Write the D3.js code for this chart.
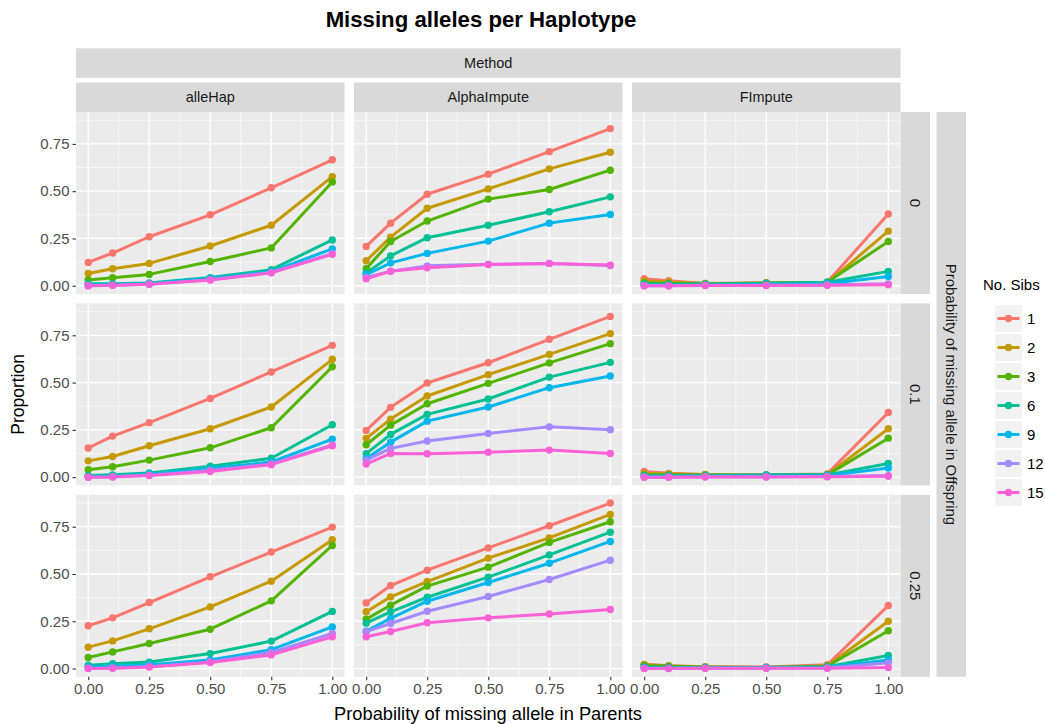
<!DOCTYPE html>
<html>
<head>
<meta charset="utf-8">
<script src="https://cdn.jsdelivr.net/npm/d3@7"></script>
<style>
  body { margin: 0; background: #fff; }
  text { font-family: "Liberation Sans", Arial, sans-serif; }
</style>
</head>
<body>
<svg id="chart" width="1045" height="724"></svg>
<script>
// x levels and series
const parentProb = [0, 0.1, 0.25, 0.5, 0.75, 1]
const sibs = ["1", "2", "3", "6", "9", "12", "15"]
const sibColors = ["#F8766D", "#C49A00", "#53B400", "#00C094", "#00B6EB", "#A58AFF", "#FB61D7"]
const methods = ["alleHap", "AlphaImpute", "FImpute"]
const offspringProb = ["0", "0.1", "0.25"]
const xTicks = [0, 0.25, 0.5, 0.75, 1]
const yTicks = [0, 0.25, 0.5, 0.75]

// one array per panel, one row per No. Sibs level
const alleHap_0 = [
    [0.123, 0.173, 0.259, 0.375, 0.518, 0.666],
    [0.065, 0.090, 0.118, 0.210, 0.320, 0.577],
    [0.030, 0.042, 0.060, 0.128, 0.200, 0.549],
    [0.010, 0.010, 0.015, 0.043, 0.085, 0.242],
    [0.005, 0.007, 0.012, 0.038, 0.075, 0.195],
    [0.000, 0.003, 0.008, 0.032, 0.070, 0.170],
    [0.000, 0.002, 0.008, 0.030, 0.068, 0.166]
]
const alphaImpute_0 = [
    [0.208, 0.331, 0.484, 0.590, 0.709, 0.831],
    [0.132, 0.257, 0.410, 0.512, 0.618, 0.706],
    [0.090, 0.234, 0.342, 0.458, 0.509, 0.611],
    [0.067, 0.158, 0.254, 0.320, 0.391, 0.470],
    [0.058, 0.121, 0.171, 0.236, 0.331, 0.377],
    [0.044, 0.077, 0.105, 0.113, 0.118, 0.107],
    [0.037, 0.076, 0.095, 0.112, 0.118, 0.109]
]
const fImpute_0 = [
    [0.037, 0.026, 0.012, 0.016, 0.019, 0.379],
    [0.025, 0.020, 0.012, 0.012, 0.015, 0.289],
    [0.015, 0.012, 0.010, 0.015, 0.018, 0.234],
    [0.010, 0.008, 0.008, 0.012, 0.018, 0.076],
    [0.003, 0.002, 0.004, 0.006, 0.010, 0.049],
    [0.000, 0.000, 0.002, 0.003, 0.004, 0.010],
    [0.000, 0.000, 0.001, 0.001, 0.002, 0.005]
]
const alleHap_01 = [
    [0.154, 0.217, 0.288, 0.416, 0.556, 0.697],
    [0.086, 0.109, 0.166, 0.256, 0.371, 0.623],
    [0.039, 0.055, 0.090, 0.155, 0.261, 0.584],
    [0.008, 0.012, 0.022, 0.058, 0.100, 0.277],
    [0.002, 0.005, 0.015, 0.045, 0.080, 0.201],
    [0.000, 0.002, 0.010, 0.035, 0.070, 0.170],
    [0.000, 0.001, 0.008, 0.030, 0.066, 0.166]
]
const alphaImpute_01 = [
    [0.247, 0.369, 0.498, 0.605, 0.729, 0.850],
    [0.205, 0.307, 0.429, 0.542, 0.649, 0.759],
    [0.171, 0.275, 0.388, 0.496, 0.604, 0.706],
    [0.124, 0.226, 0.332, 0.413, 0.529, 0.607],
    [0.099, 0.185, 0.296, 0.371, 0.473, 0.535],
    [0.090, 0.152, 0.191, 0.231, 0.266, 0.251],
    [0.069, 0.125, 0.124, 0.132, 0.143, 0.125]
]
const fImpute_01 = [
    [0.030, 0.020, 0.014, 0.012, 0.017, 0.342],
    [0.020, 0.017, 0.013, 0.010, 0.013, 0.256],
    [0.012, 0.012, 0.011, 0.010, 0.012, 0.206],
    [0.008, 0.007, 0.008, 0.012, 0.012, 0.072],
    [0.003, 0.003, 0.004, 0.006, 0.008, 0.048],
    [0.000, 0.000, 0.002, 0.002, 0.003, 0.008],
    [0.000, 0.000, 0.001, 0.001, 0.002, 0.005]
]
const alleHap_025 = [
    [0.226, 0.268, 0.349, 0.485, 0.616, 0.748],
    [0.113, 0.146, 0.210, 0.326, 0.462, 0.681],
    [0.058, 0.088, 0.132, 0.208, 0.358, 0.651],
    [0.018, 0.025, 0.034, 0.079, 0.145, 0.302],
    [0.009, 0.012, 0.020, 0.045, 0.100, 0.220],
    [0.002, 0.003, 0.010, 0.035, 0.085, 0.185],
    [0.000, 0.002, 0.008, 0.032, 0.072, 0.168]
]
const alphaImpute_025 = [
    [0.347, 0.439, 0.520, 0.638, 0.755, 0.875],
    [0.300, 0.379, 0.460, 0.584, 0.691, 0.815],
    [0.261, 0.335, 0.436, 0.536, 0.667, 0.776],
    [0.240, 0.300, 0.377, 0.483, 0.601, 0.721],
    [0.198, 0.265, 0.356, 0.455, 0.557, 0.672],
    [0.196, 0.238, 0.303, 0.381, 0.471, 0.573],
    [0.168, 0.196, 0.242, 0.268, 0.289, 0.312]
]
const fImpute_025 = [
    [0.022, 0.015, 0.010, 0.008, 0.020, 0.333],
    [0.020, 0.013, 0.008, 0.006, 0.015, 0.250],
    [0.015, 0.012, 0.007, 0.005, 0.012, 0.200],
    [0.008, 0.006, 0.005, 0.006, 0.010, 0.069],
    [0.004, 0.003, 0.003, 0.004, 0.006, 0.045],
    [0.001, 0.001, 0.002, 0.002, 0.003, 0.030],
    [0.000, 0.000, 0.001, 0.001, 0.001, 0.005]
]

// grid of panels: rows = offspring prob, cols = method
const panelData = [
    [alleHap_0, alphaImpute_0, fImpute_0],
    [alleHap_01, alphaImpute_01, fImpute_01],
    [alleHap_025, alphaImpute_025, fImpute_025]
]

// layout
const panelX0 = 76, panelW = 268.5, colStep = 278
const panelY0 = 112, panelH = 182, rowStep = 191.4
const stripH = 29.5
const font = '"Liberation Sans", Arial, sans-serif'
const lineW = 3, pointR = 3.7

const svg = d3.select("#chart")

const x = d3.scaleLinear().domain([-0.05, 1.05]).range([0, panelW])
const y = d3.scaleLinear().domain([-0.04375, 0.91875]).range([panelH, 0])
const color = d3.scaleOrdinal().domain(sibs).range(sibColors)

const line = d3.line()
    .x((d, i) => x(parentProb[i]))
    .y(d => y(d))

// title
svg.append("text")
    .attr("x", 481).attr("y", 27)
    .attr("text-anchor", "middle")
    .style("font-size", "22.2px").style("font-weight", "bold")
    .text("Missing alleles per Haplotype")

// Method strip
const gridRight = panelX0 + 2 * colStep + panelW
svg.append("rect")
    .attr("x", panelX0).attr("y", 48.3)
    .attr("width", gridRight - panelX0).attr("height", stripH)
    .attr("fill", "#D9D9D9")
svg.append("text")
    .attr("x", (panelX0 + gridRight) / 2).attr("y", 48.3 + stripH / 2)
    .attr("dy", "0.35em").attr("text-anchor", "middle")
    .style("font-size", "14.5px").attr("fill", "#1A1A1A")
    .text("Method")

// outer right strip
const gridBottom = panelY0 + 2 * rowStep + panelH
svg.append("rect")
    .attr("x", 936.5).attr("y", panelY0)
    .attr("width", stripH).attr("height", gridBottom - panelY0)
    .attr("fill", "#D9D9D9")
svg.append("text")
    .attr("transform", `translate(${936.5 + stripH / 2},${(panelY0 + gridBottom) / 2}) rotate(90)`)
    .attr("dy", "0.35em").attr("text-anchor", "middle")
    .style("font-size", "15px").attr("fill", "#1A1A1A")
    .text("Probability of missing allele in Offspring")

panelData.forEach((row, r) => {
    row.forEach((series, c) => {
        const px = panelX0 + c * colStep
        const py = panelY0 + r * rowStep
        const g = svg.append("g").attr("transform", `translate(${px},${py})`)

        g.append("rect").attr("width", panelW).attr("height", panelH).attr("fill", "#EBEBEB")

        // minor grid
        const xMinor = [0.125, 0.375, 0.625, 0.875]
        const yMinor = [0.125, 0.375, 0.625, 0.875]
        g.selectAll(".xminor").data(xMinor).join("line")
            .attr("x1", d => x(d)).attr("x2", d => x(d))
            .attr("y1", 0).attr("y2", panelH)
            .attr("stroke", "#fff").attr("stroke-width", 0.6)
        g.selectAll(".yminor").data(yMinor).join("line")
            .attr("y1", d => y(d)).attr("y2", d => y(d))
            .attr("x1", 0).attr("x2", panelW)
            .attr("stroke", "#fff").attr("stroke-width", 0.6)
        // major grid
        g.selectAll(".xmajor").data(xTicks).join("line")
            .attr("x1", d => x(d)).attr("x2", d => x(d))
            .attr("y1", 0).attr("y2", panelH)
            .attr("stroke", "#fff").attr("stroke-width", 1.3)
        g.selectAll(".ymajor").data(yTicks).join("line")
            .attr("y1", d => y(d)).attr("y2", d => y(d))
            .attr("x1", 0).attr("x2", panelW)
            .attr("stroke", "#fff").attr("stroke-width", 1.3)

        // lines and points
        series.forEach((vals, s) => {
            g.append("path")
                .datum(vals)
                .attr("d", line)
                .attr("fill", "none")
                .attr("stroke", sibColors[s])
                .attr("stroke-width", lineW)
                .attr("stroke-linejoin", "round")
        })
        series.forEach((vals, s) => {
            g.selectAll(null).data(vals).join("circle")
                .attr("cx", (d, i) => x(parentProb[i]))
                .attr("cy", d => y(d))
                .attr("r", pointR)
                .attr("fill", sibColors[s])
        })

        // y axis on the left column
        if (c === 0) {
            const ax = g.append("g").call(d3.axisLeft(y).tickValues(yTicks).tickFormat(d3.format(".2f")).tickSize(3.5).tickPadding(3))
            ax.select(".domain").remove()
            ax.selectAll("line").attr("stroke", "#333").attr("stroke-width", 1.1)
            ax.selectAll("text").attr("fill", "#4D4D4D").style("font-size", "15px").style("font-family", font)
        }
        // x axis on the bottom row
        if (r === 2) {
            const ax = g.append("g").attr("transform", `translate(0,${panelH})`)
                .call(d3.axisBottom(x).tickValues(xTicks).tickFormat(d3.format(".2f")).tickSize(3.5).tickPadding(3))
            ax.select(".domain").remove()
            ax.selectAll("line").attr("stroke", "#333").attr("stroke-width", 1.1)
            ax.selectAll("text").attr("fill", "#4D4D4D").style("font-size", "15px").style("font-family", font)
        }
        // column strip
        if (r === 0) {
            svg.append("rect")
                .attr("x", px).attr("y", panelY0 - stripH)
                .attr("width", panelW).attr("height", stripH)
                .attr("fill", "#D9D9D9")
            svg.append("text")
                .attr("x", px + panelW / 2).attr("y", panelY0 - stripH / 2)
                .attr("dy", "0.35em").attr("text-anchor", "middle")
                .style("font-size", "14.5px").attr("fill", "#1A1A1A")
                .text(methods[c])
        }
        // row strip
        if (c === 2) {
            svg.append("rect")
                .attr("x", px + panelW).attr("y", py)
                .attr("width", stripH).attr("height", panelH)
                .attr("fill", "#D9D9D9")
            svg.append("text")
                .attr("transform", `translate(${px + panelW + stripH / 2},${py + panelH / 2}) rotate(90)`)
                .attr("dy", "0.35em").attr("text-anchor", "middle")
                .style("font-size", "15px").attr("fill", "#1A1A1A")
                .text(offspringProb[r])
        }
    })
})

// axis titles
svg.append("text")
    .attr("x", 488).attr("y", 720)
    .attr("text-anchor", "middle")
    .style("font-size", "18.3px")
    .text("Probability of missing allele in Parents")
svg.append("text")
    .attr("transform", `translate(24,${(panelY0 + gridBottom) / 2}) rotate(-90)`)
    .attr("text-anchor", "middle")
    .style("font-size", "17.5px")
    .text("Proportion")

// legend
const legend = svg.append("g").attr("transform", "translate(983,0)")
legend.append("text")
    .attr("x", 0).attr("y", 290)
    .style("font-size", "15px")
    .text("No. Sibs")
const keys = legend.selectAll(".key").data(sibs).join("g")
    .attr("transform", (d, i) => `translate(12,${305 + i * 29})`)
keys.append("rect").attr("width", 27).attr("height", 27).attr("fill", "#F2F2F2")
keys.append("line")
    .attr("x1", 2.5).attr("x2", 24.5).attr("y1", 13.5).attr("y2", 13.5)
    .attr("stroke", d => color(d)).attr("stroke-width", lineW)
keys.append("circle")
    .attr("cx", 13.5).attr("cy", 13.5).attr("r", pointR)
    .attr("fill", d => color(d))
keys.append("text")
    .attr("x", 32).attr("y", 13.5).attr("dy", "0.35em")
    .style("font-size", "15px")
    .text(d => d)
</script>
</body>
</html>
